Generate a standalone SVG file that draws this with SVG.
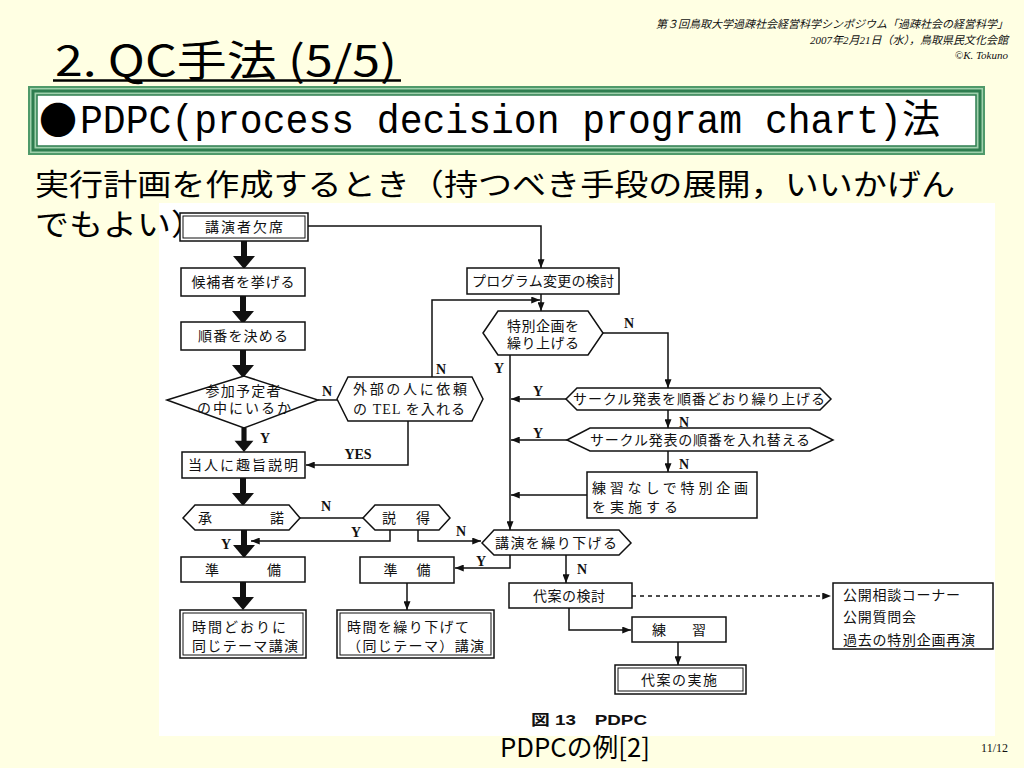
<svg xmlns="http://www.w3.org/2000/svg" width="1024" height="768" viewBox="0 0 1024 768">
<defs>
<style>
.jp{font-family:"Liberation Serif","Noto Sans CJK JP",serif;font-size:14px;fill:#111}
.c{text-anchor:middle}
.lb{font-family:"Liberation Serif",serif;font-weight:bold;font-size:14px;fill:#111;text-anchor:middle}
.bx{fill:#fff;stroke:#111;stroke-width:1.5}
.bi{fill:none;stroke:#111;stroke-width:1}
.ln{fill:none;stroke:#111;stroke-width:1.5}
.gt{font-family:"Noto Sans CJK JP",sans-serif;fill:#000}
</style>
<marker id="ah" viewBox="0 0 10 8" refX="10" refY="4" markerWidth="9" markerHeight="7" markerUnits="userSpaceOnUse" orient="auto">
<path d="M0,0 L10,4 L0,8 z" fill="#111"/>
</marker>
<symbol id="thick" viewBox="0 0 22 28" width="22" height="28" overflow="visible">
<rect x="8" y="0" width="6" height="16" fill="#111"/>
<path d="M0,15 L22,15 L11,28 z" fill="#111"/>
</symbol>
</defs>

<rect x="0" y="0" width="1024" height="768" fill="#FFFFE3"/>

<g id="header">
<text x="1008" y="28" text-anchor="end" font-family="Liberation Serif,Noto Sans CJK JP,serif" font-style="italic" font-size="11" fill="#111">第３回鳥取大学過疎社会経営科学シンポジウム「過疎社会の経営科学」</text>
<text x="1008" y="44" text-anchor="end" font-family="Liberation Serif,Noto Sans CJK JP,serif" font-style="italic" font-size="11" fill="#111">2007年2月21日（水），鳥取県民文化会館</text>
<text x="1008" y="59" text-anchor="end" font-family="Liberation Serif,serif" font-style="italic" font-size="11" fill="#111">©K. Tokuno</text>
</g>

<g id="title">
<text x="55" y="76" class="gt" font-size="42" textLength="342" lengthAdjust="spacingAndGlyphs">2. QC手法 (5/5)</text>
<line x1="53" y1="80.5" x2="401" y2="80.5" stroke="#000" stroke-width="2.5"/>
</g>

<g id="heading">
<rect x="29" y="87" width="955" height="67" fill="#9fd0ac" stroke="#4f9a6a" stroke-width="2"/>
<rect x="33" y="91" width="947" height="59" fill="none" stroke="#2e7d4f" stroke-width="3"/>
<rect x="37" y="95" width="939" height="51" fill="#fff" stroke="#2e7d4f" stroke-width="1.5"/>
<text x="39" y="134" class="gt" font-size="38">●</text>
<text x="80" y="133" font-family="Liberation Mono,Noto Sans CJK JP,monospace" font-size="40" fill="#000" textLength="860" lengthAdjust="spacingAndGlyphs">PDPC(process decision program chart)法</text>
</g>

<g id="subtitle">
<text x="35" y="195" class="gt" font-size="30" textLength="920" lengthAdjust="spacingAndGlyphs">実行計画を作成するとき（持つべき手段の展開，いいかげん</text>
</g>

<rect x="159" y="203" width="836" height="533" fill="#fff"/>
<text x="35" y="235" class="gt" font-size="30" textLength="170" lengthAdjust="spacingAndGlyphs">でもよい）</text>

<g id="connectors">
<use href="#thick" x="233" y="241"/>
<use href="#thick" x="232" y="296"/>
<use href="#thick" x="232" y="350"/>
<use href="#thick" x="233" y="428" height="24"/>
<use href="#thick" x="232" y="478"/>
<use href="#thick" x="233" y="530"/>
<use href="#thick" x="232" y="582"/>
<polyline class="ln" points="308,226 541,226 541,268" marker-end="url(#ah)"/>
<line class="ln" x1="541" y1="294" x2="541" y2="311" marker-end="url(#ah)"/>
<polyline class="ln" points="432,377 432,300 540,300" marker-end="url(#ah)"/>
<line class="ln" x1="318" y1="400" x2="337" y2="400"/>
<polyline class="ln" points="408,421 408,465 306,465" marker-end="url(#ah)"/>
<polyline class="ln" points="603,333 668,333 668,388" marker-end="url(#ah)"/>
<line class="ln" x1="510" y1="355" x2="510" y2="530" marker-end="url(#ah)"/>
<line class="ln" x1="566" y1="399" x2="511" y2="399" marker-end="url(#ah)"/>
<line class="ln" x1="668" y1="410" x2="668" y2="428" marker-end="url(#ah)"/>
<line class="ln" x1="567" y1="440" x2="511" y2="440" marker-end="url(#ah)"/>
<line class="ln" x1="668" y1="451" x2="668" y2="472" marker-end="url(#ah)"/>
<line class="ln" x1="587" y1="495" x2="511" y2="495" marker-end="url(#ah)"/>
<line class="ln" x1="300" y1="518" x2="363" y2="518"/>
<polyline class="ln" points="390,530 390,541 251,541" marker-end="url(#ah)"/>
<polyline class="ln" points="418,530 418,541 481,541" marker-end="url(#ah)"/>
<polyline class="ln" points="510,555 510,568 455,568" marker-end="url(#ah)"/>
<line class="ln" x1="566" y1="555" x2="566" y2="583" marker-end="url(#ah)"/>
<line class="ln" x1="407" y1="583" x2="407" y2="610" marker-end="url(#ah)"/>
<line class="ln" x1="632" y1="596" x2="831" y2="596" stroke-dasharray="4,4" marker-end="url(#ah)"/>
<polyline class="ln" points="569,608 569,630 631,630" marker-end="url(#ah)"/>
<line class="ln" x1="678" y1="642" x2="678" y2="665" marker-end="url(#ah)"/>
</g>

<g id="labels">
<text class="lb" x="327" y="396">N</text>
<text class="lb" x="441" y="374">N</text>
<text class="lb" x="265" y="443">Y</text>
<text class="lb" x="358" y="459">YES</text>
<text class="lb" x="326" y="511">N</text>
<text class="lb" x="356" y="537">Y</text>
<text class="lb" x="461" y="536">N</text>
<text class="lb" x="226" y="549">Y</text>
<text class="lb" x="481" y="566">Y</text>
<text class="lb" x="582" y="574">N</text>
<text class="lb" x="629" y="328">N</text>
<text class="lb" x="499" y="373">Y</text>
<text class="lb" x="538" y="396">Y</text>
<text class="lb" x="684" y="427">N</text>
<text class="lb" x="538" y="438">Y</text>
<text class="lb" x="684" y="469">N</text>
</g>

<g id="n-absent">
<rect class="bx" x="180" y="213" width="128" height="28"/>
<rect class="bi" x="183" y="216" width="122" height="22"/>
<text class="jp c" x="244" y="232" textLength="78">講演者欠席</text>
</g>
<g id="n-candidates">
<rect class="bx" x="181" y="268" width="124" height="28"/>
<text class="jp c" x="243" y="287" textLength="103">候補者を挙げる</text>
</g>
<g id="n-order">
<rect class="bx" x="181" y="322" width="124" height="28"/>
<text class="jp c" x="243" y="341" textLength="90">順番を決める</text>
</g>
<g id="n-attendee">
<polygon class="bx" points="167,400 244,376 318,400 244,428"/>
<text class="jp c" x="243" y="396" textLength="75">参加予定者</text>
<text class="jp c" x="244" y="413" textLength="94">の中にいるか</text>
</g>
<g id="n-outside">
<polygon class="bx" points="337,399 348,377 472,377 483,399 472,421 348,421"/>
<text class="jp c" x="410" y="394" textLength="114">外部の人に依頼</text>
<text class="jp c" x="409" y="414" textLength="112">の TEL を入れる</text>
</g>
<g id="n-explain">
<rect class="bx" x="182" y="452" width="123" height="26"/>
<text class="jp c" x="243" y="470" textLength="110">当人に趣旨説明</text>
</g>
<g id="n-accept">
<polygon class="bx" points="183,518 195,505 289,505 300,518 289,530 195,530"/>
<text class="jp c" x="241" y="523" textLength="86">承　　諾</text>
</g>
<g id="n-persuade">
<polygon class="bx" points="363,518 375,505 439,505 450,518 439,530 375,530"/>
<text class="jp c" x="406" y="523" textLength="48">説　得</text>
</g>
<g id="n-prep1">
<rect class="bx" x="181" y="557" width="124" height="25"/>
<text class="jp c" x="243" y="575" textLength="76">準　　備</text>
</g>
<g id="n-prep2">
<rect class="bx" x="360" y="557" width="94" height="26"/>
<text class="jp c" x="407" y="575" textLength="47">準　備</text>
</g>
<g id="n-ontime">
<rect class="bx" x="180" y="610" width="126" height="48"/>
<rect class="bi" x="183" y="613" width="120" height="42"/>
<text class="jp" x="192" y="632" textLength="94">時間どおりに</text>
<text class="jp" x="192" y="651" textLength="106">同じテーマ講演</text>
</g>
<g id="n-delay-talk">
<rect class="bx" x="337" y="610" width="157" height="48"/>
<rect class="bi" x="340" y="613" width="151" height="42"/>
<text class="jp" x="347" y="632" textLength="122">時間を繰り下げて</text>
<text class="jp" x="347" y="651" textLength="137">（同じテーマ）講演</text>
</g>
<g id="n-program">
<rect class="bx" x="467" y="268" width="152" height="26"/>
<text class="jp c" x="543" y="286" textLength="142">プログラム変更の検討</text>
</g>
<g id="n-special">
<polygon class="bx" points="483,333 498,311 588,311 603,333 588,355 498,355"/>
<text class="jp c" x="543" y="331" textLength="72">特別企画を</text>
<text class="jp c" x="543" y="348" textLength="72">繰り上げる</text>
</g>
<g id="n-circle-up">
<polygon class="bx" points="566,399 577,388 820,388 831,399 820,410 577,410"/>
<text class="jp c" x="699" y="404" textLength="252">サークル発表を順番どおり繰り上げる</text>
</g>
<g id="n-circle-swap">
<polygon class="bx" points="567,440 590,428 810,428 833,440 810,451 590,451"/>
<text class="jp c" x="700" y="445" textLength="220">サークル発表の順番を入れ替える</text>
</g>
<g id="n-nopractice">
<rect class="bx" x="587" y="472" width="170" height="46"/>
<text class="jp" x="592" y="493" textLength="156">練習なしで特別企画</text>
<text class="jp" x="592" y="512" textLength="86">を実施する</text>
</g>
<g id="n-delay">
<polygon class="bx" points="482,543 494,530 619,530 631,543 619,555 494,555"/>
<text class="jp c" x="556" y="548" textLength="122">講演を繰り下げる</text>
</g>
<g id="n-alt">
<rect class="bx" x="509" y="583" width="123" height="25"/>
<text class="jp c" x="569" y="601" textLength="72">代案の検討</text>
</g>
<g id="n-options">
<rect class="bx" x="833" y="583" width="160" height="66"/>
<text class="jp" x="843" y="600" textLength="117">公開相談コーナー</text>
<text class="jp" x="843" y="622" textLength="73">公開質問会</text>
<text class="jp" x="843" y="645" textLength="132">過去の特別企画再演</text>
</g>
<g id="n-practice">
<rect class="bx" x="632" y="617" width="94" height="25"/>
<text class="jp c" x="679" y="635" textLength="54">練　習</text>
</g>
<g id="n-alt-do">
<rect class="bx" x="615" y="665" width="131" height="29"/>
<rect class="bi" x="618" y="668" width="125" height="23"/>
<text class="jp c" x="679" y="685" textLength="76">代案の実施</text>
</g>

<g id="caption">
<text x="589" y="725" text-anchor="middle" font-family="Liberation Sans,Noto Sans CJK JP,sans-serif" font-weight="bold" font-size="15" fill="#111" textLength="116" lengthAdjust="spacingAndGlyphs">図 13　PDPC</text>
<text x="575" y="757" text-anchor="middle" class="gt" font-size="26" textLength="150" lengthAdjust="spacingAndGlyphs">PDPCの例[2]</text>
<text x="1008" y="752" text-anchor="end" font-family="Liberation Serif,serif" font-size="12" fill="#111">11/12</text>
</g>
</svg>
